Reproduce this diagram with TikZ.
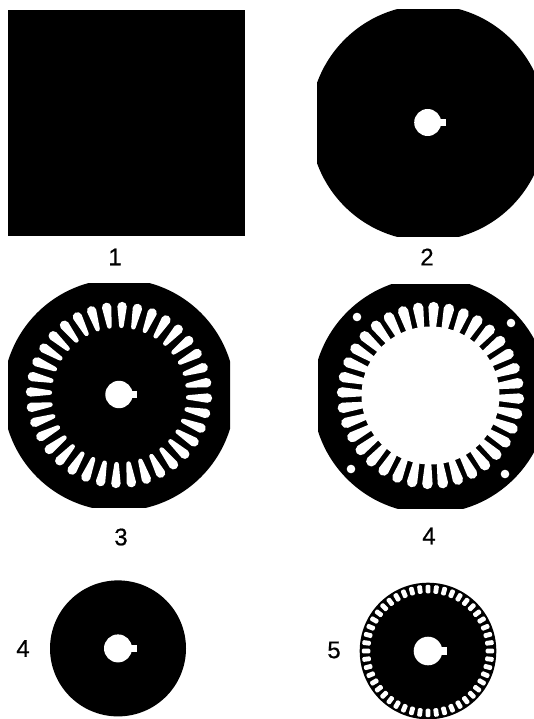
\documentclass[tikz,border=0pt]{standalone}
\usepackage{fontspec}
\setmainfont{Liberation Sans}[FakeBold=0.6]
\tikzset{
  sheet/.style={fill=black,draw=none},
  cutout/.style={fill=white,draw=none},
  partnum/.style={font=\fontsize{24}{24}\selectfont,inner sep=0pt}
}
% shaft bore with its key notch
\newcommand{\shaftbore}[3]{
  \fill[cutout] (#1,#2) circle (#3);
  \fill[cutout] (#1,#2-3.7) rectangle (#1+#3+4.5,#2+3.7);
}
\begin{document}
\begin{tikzpicture}[x=1pt,y=-1pt,line cap=round,line join=round]
  \useasboundingbox (0,0) rectangle (534,719);
  \fill[white] (0,0) rectangle (534,719);
  % 1: blank
  \fill[sheet] (8,10) rectangle (245,236);
  \node[partnum] (num1) at (115,257) {1};
  % 2: trimmed blank
  \begin{scope}
    \clip (317,10) rectangle (560,236);
    \fill[sheet] (428,123) circle (118);
  \end{scope}
  \shaftbore{427.7}{122.5}{13.5}
  \node[partnum] (num2) at (427,257) {2};
  % 3: stator slots punched
  \begin{scope}
    \clip (8,283) rectangle (230,507);
    \fill[sheet] (119,395) circle (116);
  \end{scope}
  \foreach \a in {2,12,...,352}
    \fill[cutout,shift={(119,395)},rotate=-\a]
      (69.3,-2.3) -- (88.5,-4.7) arc (-90:90:4.7) -- (69.3,2.3) arc (90:270:2.3) -- cycle;
  \shaftbore{119}{394.5}{13.7}
  \node[partnum] (num3) at (121,537) {3};
  % 4: stator with bore
  \begin{scope}
    \clip (318,284) rectangle (560,508);
    \fill[sheet] (430.5,395.5) circle (118);
  \end{scope}
  \foreach \a in {-2,8,...,348}
    \fill[cutout,shift={(430.5,395.5)},rotate=\a]
      (66,-3) -- (88.5,-5.2) arc (-90:90:5.2) -- (66,3) -- cycle;
  \fill[cutout] (430.5,395.5) circle (69);
  \foreach \hx/\hy in {357/317,511/323,505/474,351/469}
    \fill[cutout] (\hx,\hy) circle (4.3);
  \node[partnum] (num4) at (429,536) {4};
  % rotor blank
  \fill[sheet] (118,648.4) circle (68);
  \shaftbore{118}{648.4}{14}
  \node[partnum] (num4b) at (23,648.5) {4};
  % 5: rotor slots punched
  \fill[sheet] (428,651) circle (68.3);
  \foreach \a in {0,7.5,...,352.5}
    \fill[cutout,shift={(428,651)},rotate=\a,rounded corners=1.2pt]
      (57.7,-2.4) rectangle (66.2,2.4);
  \shaftbore{428}{651}{14.3}
  \node[partnum] (num5) at (334,650) {5};
\end{tikzpicture}
\end{document}
